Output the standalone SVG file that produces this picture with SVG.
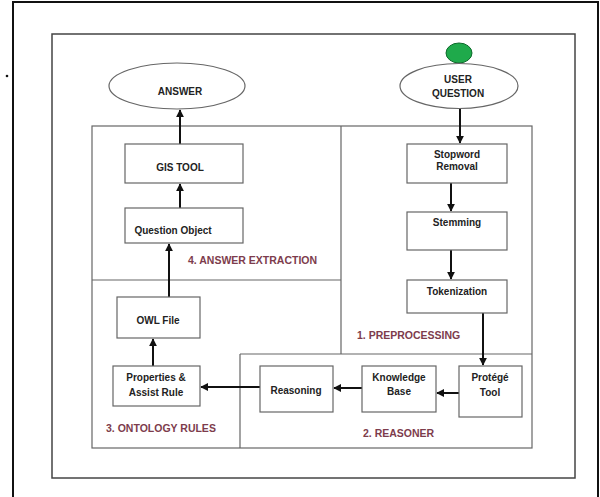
<svg xmlns="http://www.w3.org/2000/svg" width="600" height="497" viewBox="0 0 600 497">
<defs>
<style>
.t{font-family:"Liberation Sans",Arial,sans-serif;font-weight:bold;font-size:10px;fill:#222;text-anchor:middle}
.s{font-family:"Liberation Sans",Arial,sans-serif;font-weight:bold;font-size:10.5px;fill:#7d3c4c}
.b{fill:#fff;stroke:#666;stroke-width:1.2}
.sec{fill:none;stroke:#666;stroke-width:1.2}
.c{stroke:#111;stroke-width:2;fill:none;marker-end:url(#ah)}
</style>
<marker id="ah" viewBox="0 0 10 10" refX="9" refY="5" markerWidth="4" markerHeight="4" orient="auto" markerUnits="strokeWidth">
<path d="M0,0 L10,5 L0,10 z" fill="#111"/>
</marker>
</defs>
<rect width="600" height="497" fill="#fff"/>
<!-- outer frame -->
<path d="M13,497 V2 H598 V497" fill="none" stroke="#111" stroke-width="2"/>
<circle cx="7" cy="76" r="1.3" fill="#111"/>
<!-- inner frame -->
<rect x="52" y="34" width="523" height="444" fill="none" stroke="#444" stroke-width="1.5"/>
<!-- sections -->
<g id="sections">
<rect class="sec" x="92" y="126" width="440" height="322"/>
<path class="sec" d="M341,126 V354 M92,280 H341 M240,354 H532 M240,354 V448"/>
<text class="s" x="188" y="264">4. ANSWER EXTRACTION</text>
<text class="s" x="357" y="339">1. PREPROCESSING</text>
<text class="s" x="106" y="432">3. ONTOLOGY RULES</text>
<text class="s" x="363" y="437">2. REASONER</text>
</g>
<g id="connectors">
<line class="c" x1="180" y1="144" x2="180" y2="110"/>
<line class="c" x1="180" y1="208" x2="180" y2="184"/>
<line class="c" x1="169" y1="297" x2="169" y2="244"/>
<line class="c" x1="153" y1="366" x2="153" y2="339"/>
<line class="c" x1="260" y1="387" x2="201" y2="387"/>
<line class="c" x1="362" y1="388" x2="334" y2="388"/>
<line class="c" x1="459" y1="393" x2="437" y2="393"/>
<line class="c" x1="460" y1="108" x2="460" y2="143"/>
<line class="c" x1="451" y1="183" x2="451" y2="211"/>
<line class="c" x1="451" y1="250" x2="451" y2="279"/>
<line class="c" x1="483" y1="313" x2="483" y2="365"/>
</g>
<g id="start"><ellipse cx="459" cy="53" rx="13" ry="10" fill="#1faa4b" stroke="#0d6b2b" stroke-width="1"/></g>
<g id="answer"><ellipse cx="177" cy="86" rx="68" ry="23" fill="#fff" stroke="#666" stroke-width="1.2"/><text class="t" x="180" y="95">ANSWER</text></g>
<g id="user-question"><ellipse cx="459" cy="86" rx="59" ry="22.5" fill="#fff" stroke="#666" stroke-width="1.2"/><text class="t" x="458" y="83">USER</text><text class="t" x="458" y="97">QUESTION</text></g>
<g id="gis-tool"><rect class="b" x="125" y="144" width="118" height="39"/><text class="t" x="180" y="171">GIS TOOL</text></g>
<g id="question-object"><rect class="b" x="125" y="208" width="118" height="35"/><text class="t" x="173" y="234">Question Object</text></g>
<g id="owl-file"><rect class="b" x="117" y="297" width="83" height="41"/><text class="t" x="158" y="324">OWL File</text></g>
<g id="properties"><rect class="b" x="113" y="366" width="87" height="40"/><text class="t" x="156" y="381">Properties &amp;</text><text class="t" x="156" y="396">Assist Rule</text></g>
<g id="reasoning"><rect class="b" x="260" y="366" width="73" height="46"/><text class="t" x="296" y="394">Reasoning</text></g>
<g id="knowledge-base"><rect class="b" x="362" y="366" width="74" height="46"/><text class="t" x="399" y="381">Knowledge</text><text class="t" x="399" y="395">Base</text></g>
<g id="protege-tool"><rect class="b" x="459" y="366" width="63" height="51"/><text class="t" x="490" y="381">Protégé</text><text class="t" x="490" y="396">Tool</text></g>
<g id="stopword"><rect class="b" x="407" y="144" width="100" height="39"/><text class="t" x="457" y="158">Stopword</text><text class="t" x="457" y="170">Removal</text></g>
<g id="stemming"><rect class="b" x="407" y="212" width="100" height="38"/><text class="t" x="457" y="226">Stemming</text></g>
<g id="tokenization"><rect class="b" x="407" y="280" width="100" height="33"/><text class="t" x="457" y="295">Tokenization</text></g>
</svg>
